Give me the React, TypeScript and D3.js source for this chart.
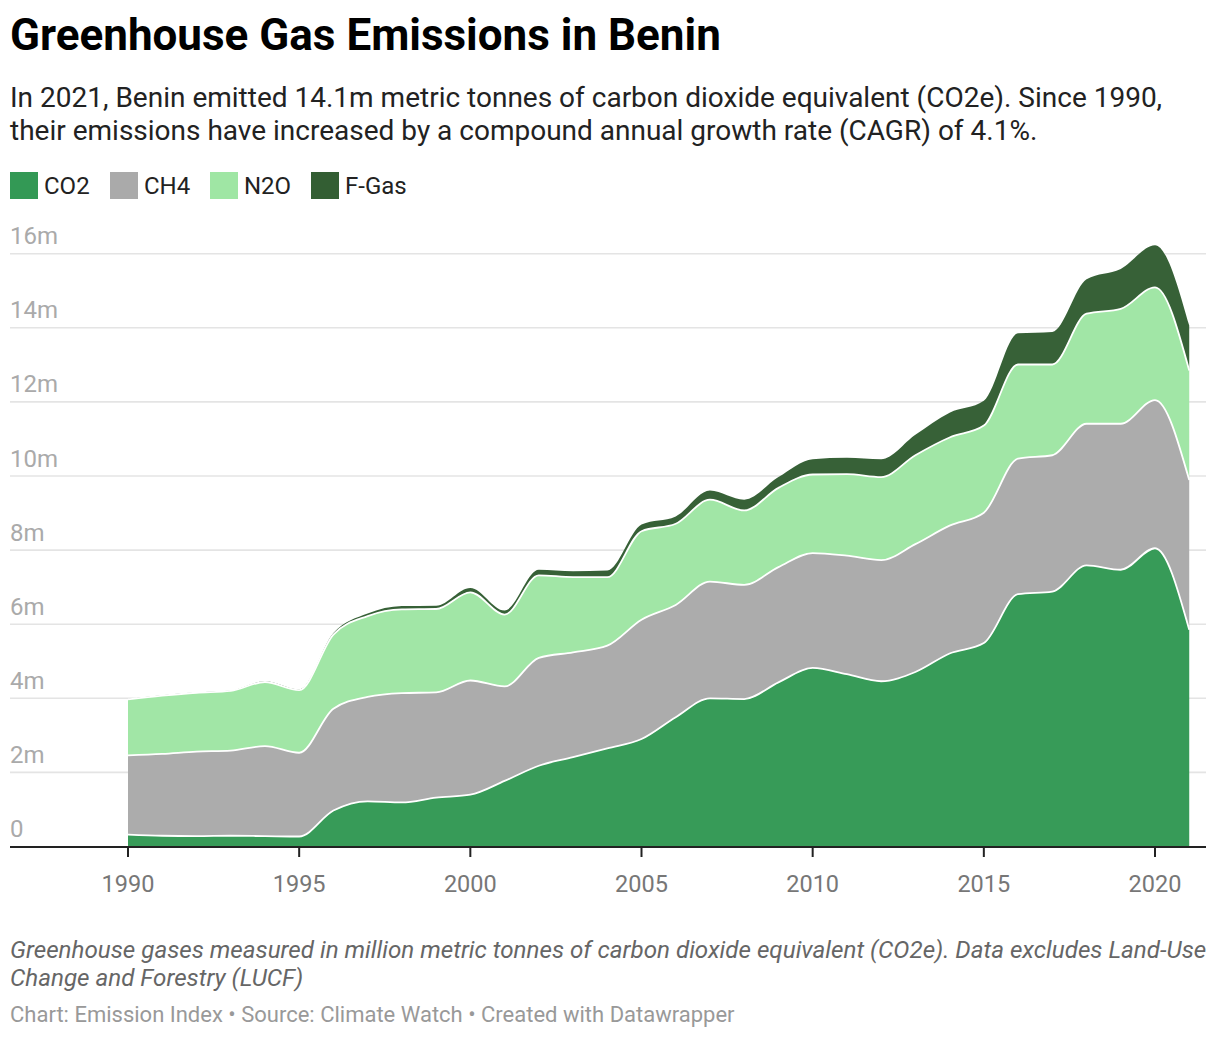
import React from "react";
import * as d3 from "d3";

const years = [1990,1991,1992,1993,1994,1995,1996,1997,1998,1999,2000,2001,2002,2003,2004,2005,2006,2007,2008,2009,2010,2011,2012,2013,2014,2015,2016,2017,2018,2019,2020,2021];
const co2 = [0.32,0.29,0.28,0.29,0.28,0.27,0.97,1.22,1.19,1.32,1.40,1.77,2.18,2.41,2.65,2.90,3.49,4.00,3.98,4.43,4.82,4.65,4.46,4.71,5.21,5.49,6.81,6.88,7.59,7.47,8.05,5.85];
const ch4 = [2.14,2.21,2.28,2.30,2.43,2.26,2.75,2.82,2.95,2.84,3.08,2.55,2.91,2.83,2.77,3.22,3.03,3.15,3.08,3.11,3.10,3.20,3.27,3.45,3.45,3.52,3.66,3.68,3.82,3.94,4.00,4.04];
const n2o = [1.51,1.57,1.59,1.61,1.73,1.69,2.00,2.18,2.26,2.25,2.38,1.94,2.23,2.03,1.85,2.39,2.19,2.21,2.01,2.14,2.12,2.20,2.24,2.40,2.38,2.35,2.54,2.45,2.97,3.10,3.04,2.96];
const fgas = [0.01,0.01,0.01,0.01,0.02,0.02,0.04,0.07,0.09,0.09,0.12,0.11,0.15,0.16,0.18,0.18,0.20,0.25,0.29,0.29,0.41,0.44,0.48,0.55,0.67,0.67,0.84,0.88,0.93,1.08,1.14,1.21];

const seriesNames = ["CO2", "CH4", "N2O", "F-Gas"];
const seriesColors = ["#339955", "#aaaaaa", "#9fe6a4", "#335e33"];
const yTicks = [0, 2, 4, 6, 8, 10, 12, 14, 16];
const xTicks = [1990, 1995, 2000, 2005, 2010, 2015, 2020];

const title = "Greenhouse Gas Emissions in Benin";
const subtitleLines = [
  "In 2021, Benin emitted 14.1m metric tonnes of carbon dioxide equivalent (CO2e). Since 1990,",
  "their emissions have increased by a compound annual growth rate (CAGR) of 4.1%.",
];
const noteLines = [
  "Greenhouse gases measured in million metric tonnes of carbon dioxide equivalent (CO2e). Data excludes Land-Use",
  "Change and Forestry (LUCF)",
];
const sourceLine = "Chart: Emission Index \u2022 Source: Climate Watch \u2022 Created with Datawrapper";

export default function App() {
  const W = 1220, H = 1040;
  const font = "Roboto, 'Noto Sans', sans-serif";
  const x = d3.scaleLinear().domain([1990, 2020]).range([128, 1155]);
  const y = d3.scaleLinear().domain([0, 16]).range([846.5, 253.7]);

  const table = years.map((yr, i) => ({ year: yr, CO2: co2[i], CH4: ch4[i], N2O: n2o[i], "F-Gas": fgas[i] }));
  const stack = d3.stack<any>().keys(seriesNames);
  const layers = stack(table);

  const area = d3.area<any>()
    .x((d) => x(d.data.year))
    .y0((d) => y(d[0]))
    .y1((d) => y(d[1]))
    .curve(d3.curveMonotoneX);
  const line = d3.line<any>()
    .x((d) => x(d.data.year))
    .y((d) => y(d[1]))
    .curve(d3.curveMonotoneX);

  const legendX = [10, 110, 210, 311];

  return (
    <svg width={W} height={H} style={{ position: "absolute", left: 0, top: 0, background: "#fff" }} fontFamily={font}>
      <text x={10} y={50} fontSize={44} fontWeight={700} fill="#000">{title}</text>
      {subtitleLines.map((t, i) => (
        <text key={i} x={10} y={107 + i * 33} fontSize={28} fill="#222">{t}</text>
      ))}
      {seriesNames.map((n, i) => (
        <g key={n}>
          <rect x={legendX[i]} y={172} width={28} height={27} fill={seriesColors[i]} />
          <text x={legendX[i] + 34} y={194} fontSize={24} fill="#222">{n}</text>
        </g>
      ))}
      {yTicks.map((t) => (
        <g key={t}>
          {t > 0 && <line x1={10} x2={1206} y1={y(t)} y2={y(t)} stroke="#e4e4e4" strokeWidth={1.6} />}
          <text x={10} y={y(t) - 9.5} fontSize={24} fill="#aaaaaa">{t === 0 ? "0" : `${t}m`}</text>
        </g>
      ))}
      {layers.map((layer, i) => (
        <path key={layer.key} d={area(layer) || ""} fill={seriesColors[i]} fillOpacity={0.98} />
      ))}
      {layers.slice(0, 3).map((layer) => (
        <path key={"l" + layer.key} d={line(layer) || ""} fill="none" stroke="#fff" strokeWidth={1.8} />
      ))}
      <line x1={10} x2={1206} y1={847} y2={847} stroke="#222" strokeWidth={2} />
      {xTicks.map((t) => (
        <g key={t}>
          <line x1={x(t)} x2={x(t)} y1={847} y2={857} stroke="#222" strokeWidth={2} />
          <text x={x(t)} y={892} fontSize={23.5} fill="#777" textAnchor="middle">{t}</text>
        </g>
      ))}
      {noteLines.map((t, i) => (
        <text key={i} x={10} y={958 + i * 28} fontSize={24.2} fontStyle="italic" fill="#666">{t}</text>
      ))}
      <text x={10} y={1022} fontSize={22} fill="#999">{sourceLine}</text>
    </svg>
  );
}
